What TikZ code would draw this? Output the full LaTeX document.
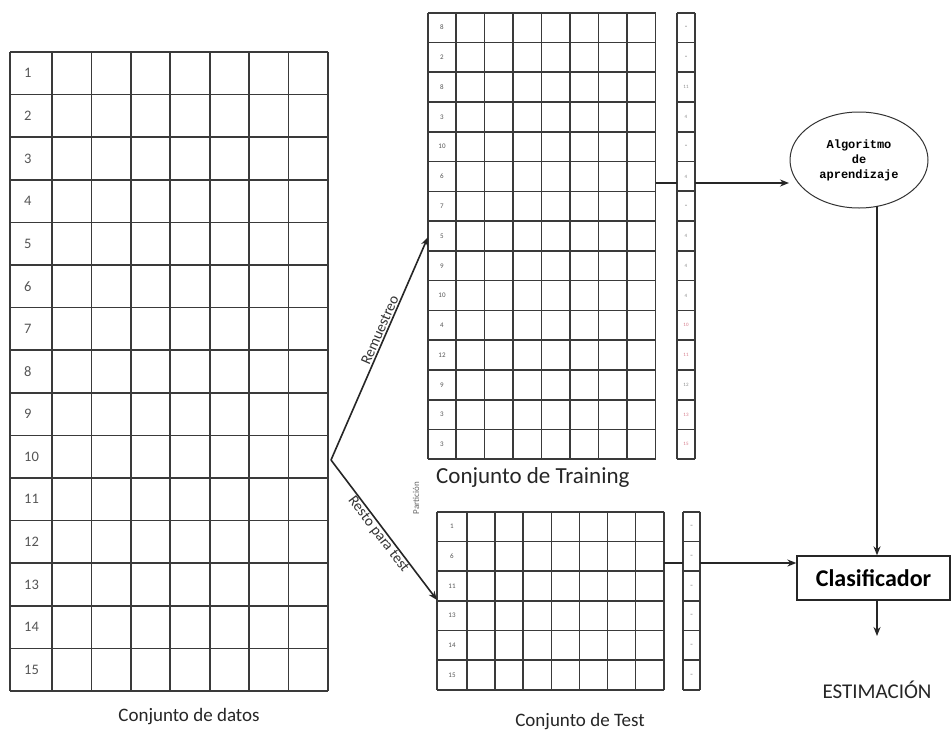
\documentclass[tikz,border=0pt]{standalone}
\usepackage{fontspec}
\setmainfont{Carlito}
\newfontfamily\algfont{Liberation Mono}
\usetikzlibrary{arrows.meta,shapes.geometric}
\definecolor{gridc}{HTML}{3A3A3A}
\definecolor{cellnum}{HTML}{555555}
\definecolor{tinyc}{HTML}{8A8A8A}
\definecolor{redc}{HTML}{D77A8A}
\tikzset{
  gridline/.style={draw=gridc, line width=1.6pt},
  sideline/.style={draw=gridc, line width=1.7pt},
  conn/.style={draw=black!85, line width=1.6pt},
  connarrow/.style={conn, -{Stealth[length=9pt,width=7pt]}},
  bignum/.style={anchor=west, font=\fontsize{14.5}{14.5}\selectfont, text=cellnum, inner sep=0pt},
  smallnum/.style={anchor=center, font=\fontsize{7}{7}\selectfont, text=cellnum, inner sep=0pt},
  tinynum/.style={anchor=center, font=\fontsize{5}{5}\selectfont, text=tinyc, inner sep=0pt},
  caption/.style={font=\fontsize{19}{19}\selectfont, text=black!85, inner sep=0pt},
  arrowlabel/.style={font=\fontsize{15}{15}\selectfont, text=black!80, inner sep=1pt}
}
\begin{document}
\begin{tikzpicture}[x=1pt,y=-1pt]
\useasboundingbox (0,0) rectangle (952,747);
\fill[white] (0,0) rectangle (952,747);

% ---------- full data set: 15 rows x 8 columns ----------
\foreach \i in {0,...,15} \draw[gridline] (10,{52+\i*42.6}) -- (328,{52+\i*42.6});
\draw[gridline] (10,52) -- (10,691);
\foreach \k in {0,...,7} \draw[gridline] ({52+\k*39.43},52) -- ({52+\k*39.43},691);
\foreach \n [count=\i] in {1,...,15}
  \node[bignum] (d\i) at (24,{52+(\i-0.5)*42.6}) {\n};
\node[caption] (capdata) at (189,717) {Conjunto de datos};

% ---------- training set: 15 rows x 8 columns ----------
\foreach \i in {0,...,15} \draw[gridline] (428,{12.7+\i*29.77}) -- (655.5,{12.7+\i*29.77});
\draw[gridline] (428,12.7) -- (428,459.3);
\foreach \k in {0,...,7} \draw[gridline] ({456+\k*28.5},12.7) -- ({456+\k*28.5},459.3);
\foreach \n [count=\i] in {8,2,8,3,10,6,7,5,9,10,4,12,9,3,3}
  \node[smallnum] (t\i) at (442,{12.7+(\i-0.5)*29.77}) {\n};
% class column of the training set
\foreach \i in {0,...,15} \draw[sideline] (677,{12.7+\i*29.77}) -- (695,{12.7+\i*29.77});
\draw[sideline] (677,12.7) -- (677,459.3);
\draw[sideline] (695,12.7) -- (695,459.3);
\foreach \n/\c [count=\i] in {=/tinyc,=/tinyc,11/tinyc,4/tinyc,=/tinyc,4/tinyc,=/tinyc,4/tinyc,4/tinyc,4/tinyc,10/redc,11/redc,12/tinyc,13/redc,15/redc}
  \node[tinynum, text=\c] (tc\i) at (686,{12.7+(\i-0.5)*29.77}) {\n};
\node[caption, anchor=west, font=\fontsize{23}{23}\selectfont] (captrain) at (436,477) {Conjunto de Training};

% ---------- test set: 6 rows x 8 columns ----------
\foreach \i in {0,...,6} \draw[gridline] (437,{511.7+\i*29.7}) -- (663.7,{511.7+\i*29.7});
\draw[gridline] (437,511.7) -- (437,689.9);
\foreach \k in {0,...,7} \draw[gridline] ({467+\k*28.1},511.7) -- ({467+\k*28.1},689.9);
\foreach \n [count=\i] in {1,6,11,13,14,15}
  \node[smallnum] (s\i) at (452,{511.7+(\i-0.5)*29.7}) {\n};
% class column of the test set
\foreach \i in {0,...,6} \draw[sideline] (683,{511.7+\i*29.7}) -- (700,{511.7+\i*29.7});
\draw[sideline] (683,511.7) -- (683,689.9);
\draw[sideline] (700,511.7) -- (700,689.9);
\foreach \i in {1,...,6}
  \node[tinynum] (sc\i) at (691.5,{511.7+(\i-0.5)*29.7}) {=};
\node[caption] (captest) at (580,722) {Conjunto de Test};

% ---------- split arrows ----------
\coordinate (split) at (331,460);
\coordinate (trainin) at (428,237);
\coordinate (testin) at (437,600);
\draw[connarrow] (split) -- (trainin);
\draw[connarrow] (split) -- (testin);
\path (split) -- (trainin) node[pos=0.57, sloped, above=1pt, arrowlabel] (lblre) {Remuestreo};
\path (split) -- (testin) node[pos=0.5, sloped, below=0pt, arrowlabel] (lblrest) {Resto para test};
\node[rotate=90, font=\fontsize{9}{9}\selectfont, text=black!60] (lblpart) at (416,498) {Partición};

% ---------- learning algorithm and classifier ----------
\node[ellipse, draw=black!80, line width=1pt, minimum width=138pt, minimum height=96pt,
      align=center, inner sep=0pt, font=\algfont\bfseries\fontsize{12}{15}\selectfont] (alg) at (859,160)
      {Algoritmo\\de\\aprendizaje};
\node[draw=black!85, line width=1.3pt, minimum width=153pt, minimum height=44pt, inner sep=0pt,
      font=\bfseries\fontsize{24}{24}\selectfont] (clf) at (873.5,578) {Clasificador};
\node[font=\fontsize{21}{21}\selectfont, text=black!85, inner sep=0pt] (est) at (877,690) {ESTIMACIÓN};

% training data into the algorithm
\coordinate (trout) at (655.5,183);
\coordinate (trcol) at (677,183);
\coordinate (trcolout) at (695,183);
\draw[conn] (trout) -- (trcol);
\draw[connarrow] (trcolout) -- (789,183);
% test data into the classifier
\coordinate (tsout) at (663.7,563);
\coordinate (tscol) at (683,563);
\coordinate (tscolout) at (700,563);
\draw[conn] (tsout) -- (tscol);
\draw[connarrow] (tscolout) -- (clf.west |- tscolout);
% algorithm builds the classifier
\coordinate (algdown) at (877,206);
\draw[connarrow] (algdown) -- (clf.north -| algdown);
% classifier output
\coordinate (estend) at (877,636);
\draw[connarrow] (clf.south -| estend) -- (estend);
\end{tikzpicture}
\end{document}
